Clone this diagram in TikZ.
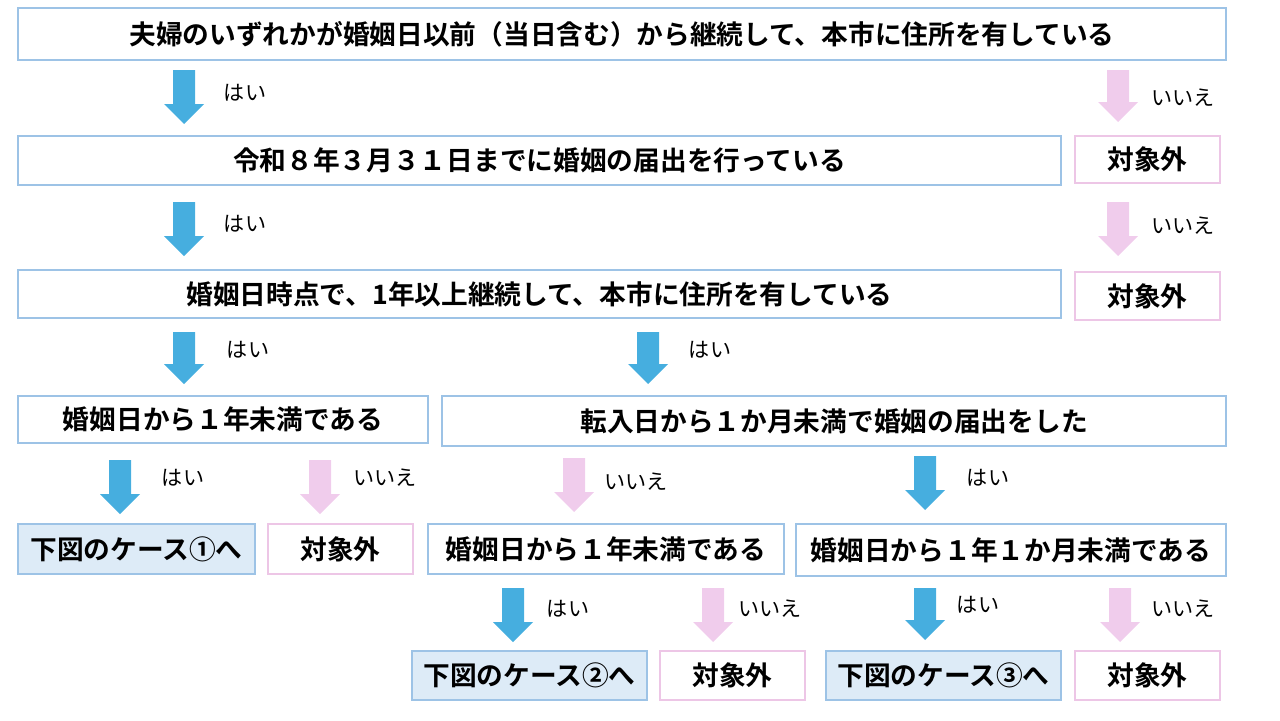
\documentclass[tikz,border=0pt]{standalone}
\usepackage{fontspec}
\setmainfont{Noto Sans CJK JP}
\newfontfamily\jpbold{Noto Sans CJK JP Bold}
\usetikzlibrary{positioning}
\definecolor{boxblue}{HTML}{9DC3E6}
\definecolor{fillblue}{HTML}{DDEBF7}
\definecolor{boxpink}{HTML}{EDC6E6}
\definecolor{arrblue}{HTML}{46AEDF}
\definecolor{arrpink}{HTML}{F0CCEC}
\tikzset{
  qbox/.style={draw=boxblue,line width=1.2pt,font=\jpbold\fontsize{15.2}{15.2}\selectfont},
  casebox/.style={qbox,fill=fillblue},
  outbox/.style={draw=boxpink,line width=1.2pt,font=\jpbold\fontsize{15.2}{15.2}\selectfont},
  ans/.style={font=\fontsize{12}{12}\selectfont,anchor=center}
}
% block arrow: centre x, top y, bottom y, colour
\newcommand\flowdown[4]{%
  \fill[#4] (#1-11,#2) -- (#1+11,#2) -- (#1+11,#3-20) -- (#1+20,#3-20)
    -- (#1,#3) -- (#1-20,#3-20) -- (#1-11,#3-20) -- cycle;}
\begin{document}
\begin{tikzpicture}[x=0.02cm,y=-0.02cm]
  \useasboundingbox (0,0) rectangle (1280,720);
  % questions
  \draw[qbox] (18,8) rectangle (1226,60) node[midway] (q1) {夫婦のいずれかが婚姻日以前（当日含む）から継続して、本市に住所を有している};
  \draw[qbox] (18,136) rectangle (1061,185) node[midway] (q2) {令和８年３月３１日までに婚姻の届出を行っている};
  \draw[outbox] (1075,136) rectangle (1220,183) node[midway] (o1) {対象外};
  \draw[qbox] (18,270) rectangle (1061,318) node[midway] (q3) {婚姻日時点で、1年以上継続して、本市に住所を有している};
  \draw[outbox] (1075,272) rectangle (1220,320) node[midway] (o2) {対象外};
  \draw[qbox] (18,396) rectangle (428,443) node[midway] (q4) {婚姻日から１年未満である};
  \draw[qbox] (442,396) rectangle (1226,446) node[midway] (q5) {転入日から１か月未満で婚姻の届出をした};
  \draw[casebox] (18,524) rectangle (255,574) node[midway] (c1) {下図のケース①へ};
  \draw[outbox] (268,524) rectangle (413,574) node[midway] (o3) {対象外};
  \draw[qbox] (428,524) rectangle (784,574) node[midway] (q6) {婚姻日から１年未満である};
  \draw[qbox] (796,524) rectangle (1226,576) node[midway] (q7) {婚姻日から１年１か月未満である};
  \draw[casebox] (412,651) rectangle (647,700) node[midway] (c2) {下図のケース②へ};
  \draw[outbox] (660,651) rectangle (805,700) node[midway] (o4) {対象外};
  \draw[casebox] (826,651) rectangle (1061,700) node[midway] (c3) {下図のケース③へ};
  \draw[outbox] (1075,651) rectangle (1220,700) node[midway] (o5) {対象外};
  % arrows and answers
  \foreach \x/\ya/\yb/\c/\lx/\ly/\t in {
      184/70/124/arrblue/245/93/はい, 1118/70/122/arrpink/1183/98/いいえ,
      184/202/256/arrblue/245/224/はい, 1118/202/256/arrpink/1183/226/いいえ,
      184/332/384/arrblue/248/350/はい, 648/332/384/arrblue/710/350/はい,
      120/460/514/arrblue/183/478/はい, 320/460/514/arrpink/385/478/いいえ,
      574/458/512/arrpink/636/482/いいえ, 925/456/510/arrblue/988/478/はい,
      513/588/642/arrblue/568/609/はい, 713/588/642/arrpink/770/609/いいえ,
      925/588/640/arrblue/978/605/はい, 1120/588/642/arrpink/1183/609/いいえ}{
    \flowdown{\x}{\ya}{\yb}{\c}
    \node[ans] at (\lx,\ly) {\t};
  }
\end{tikzpicture}
\end{document}
